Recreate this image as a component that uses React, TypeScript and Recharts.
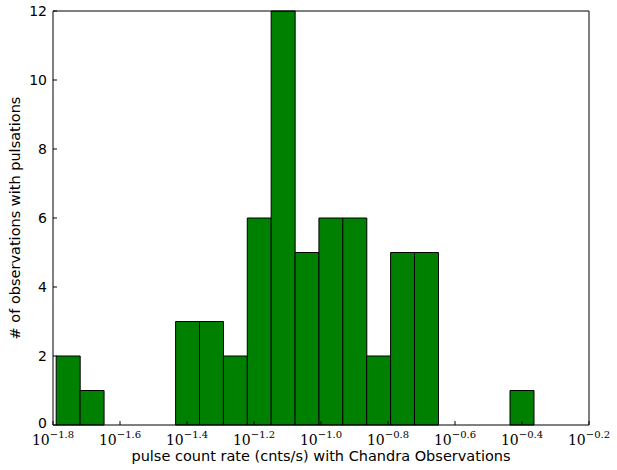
import React from 'react';
import {
  ComposedChart,
  Bar,
  XAxis,
  YAxis,
} from 'recharts';

// log10 of the pulse count rate: histogram bins (equal width in log space)
const binStart = -1.7905;
const binWidth = 0.0713;
const counts = [2, 1, 0, 0, 0, 3, 3, 2, 6, 12, 5, 6, 6, 2, 5, 5, 0, 0, 0, 1];

const xTicks = [-1.8, -1.6, -1.4, -1.2, -1.0, -0.8, -0.6, -0.4, -0.2];
const yTicks = [0, 2, 4, 6, 8, 10, 12];

const data = counts.map((count, i) => ({
  x: binStart + binWidth * (i + 0.5),
  count,
}));

const sans = '"DejaVu Sans", sans-serif';
const serif = '"DejaVu Serif", "Liberation Serif", serif';

function LogTick(props: any) {
  const { x, y, payload } = props;
  const exp = payload.value.toFixed(1).replace('-', '\u2212');
  return (
    <text x={x} y={y + 14} textAnchor="middle" fontFamily={serif} fill="#000">
      <tspan fontSize={14}>10</tspan>
      <tspan fontSize={10} dy={-7}>{exp}</tspan>
    </text>
  );
}

function CountTick(props: any) {
  const { x, y, payload } = props;
  return (
    <text x={x} y={y} dy={payload.value === 0 ? 3 : 5} textAnchor="end" fontFamily={sans} fontSize={14} fill="#000">
      {payload.value}
    </text>
  );
}

export default function App() {
  return (
    <div style={{ position: 'absolute', left: 0, top: 0, width: 617, height: 470, background: '#fff' }}>
      <ComposedChart
        width={617}
        height={470}
        data={data}
        margin={{ top: 10, right: 27, bottom: 0, left: 0 }}
        barCategoryGap={0}
        barGap={0}
      >
        <XAxis
          xAxisId="b"
          dataKey="x"
          type="number"
          domain={[-1.8, -0.2]}
          ticks={xTicks}
          allowDataOverflow
          height={45}
          stroke="#000"
          tickSize={4}
          tick={<LogTick />}
          tickLine={{ transform: 'translate(0,-4)' }}
          label={{
            value: 'pulse count rate (cnts/s) with Chandra Observations',
            position: 'insideBottom',
            offset: 9,
            fontFamily: sans,
            fontSize: 14.5,
            fill: '#000',
          }}
        />
        <XAxis
          xAxisId="t"
          orientation="top"
          dataKey="x"
          type="number"
          domain={[-1.8, -0.2]}
          ticks={xTicks}
          allowDataOverflow
          height={1}
          stroke="#000"
          tickSize={4}
          tickLine={{ transform: 'translate(0,8)' }}
          tick={false}
        />
        <YAxis
          yAxisId="l"
          domain={[0, 12]}
          ticks={yTicks}
          width={53}
          stroke="#000"
          tickSize={4}
          tickLine={{ transform: 'translate(4,0)' }}
          tick={<CountTick />}
          label={{
            value: '# of observations with pulsations',
            angle: -90,
            position: 'insideLeft',
            offset: 15,
            style: { textAnchor: 'middle' },
            fontFamily: sans,
            fontSize: 14.5,
            fill: '#000',
          }}
        />
        <YAxis
          yAxisId="r"
          orientation="right"
          domain={[0, 12]}
          ticks={yTicks}
          width={1}
          stroke="#000"
          tickSize={4}
          tickLine={{ transform: 'translate(-8,0)' }}
          tick={false}
        />
        <Bar
          xAxisId="b"
          yAxisId="l"
          dataKey="count"
          fill="#008000"
          stroke="#000"
          strokeWidth={1}
          isAnimationActive={false}
        />
      </ComposedChart>
    </div>
  );
}
